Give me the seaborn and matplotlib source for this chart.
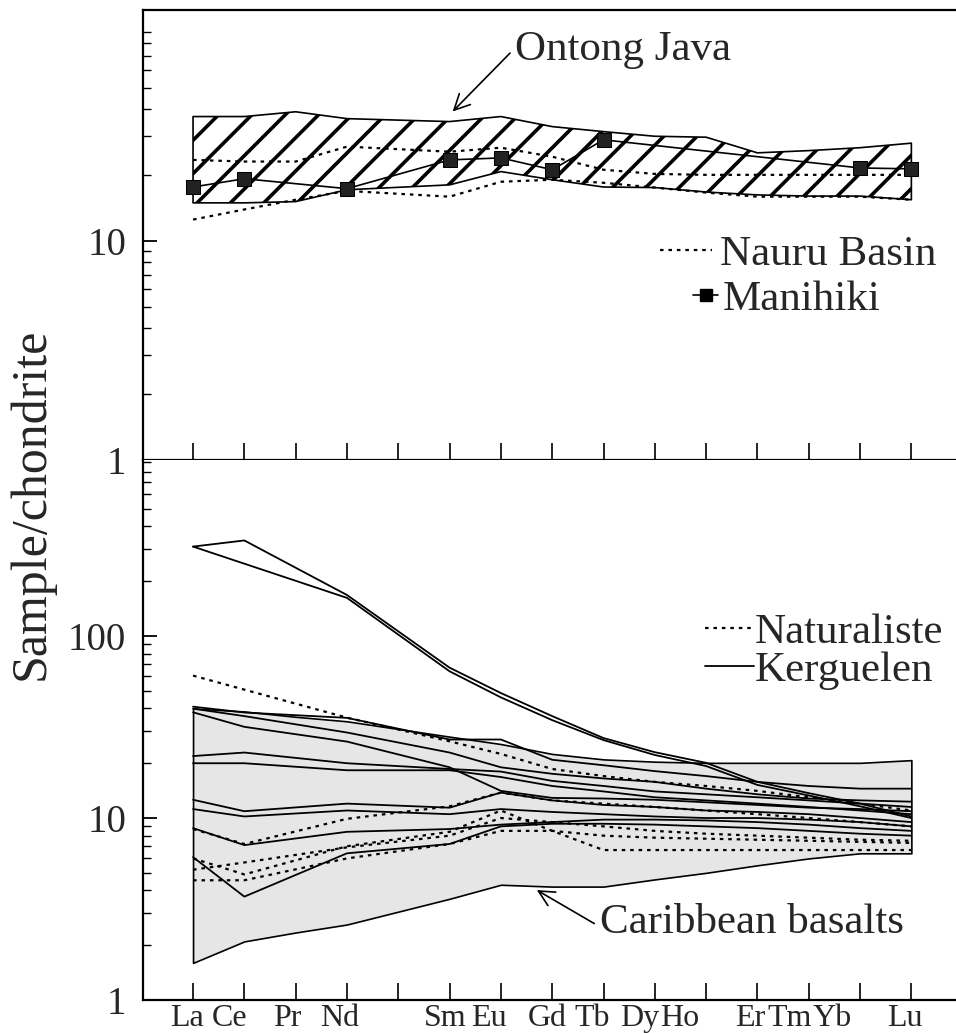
import numpy as np
import pandas as pd
import matplotlib
matplotlib.use("Agg")
import matplotlib.pyplot as plt
import seaborn as sns
from matplotlib.lines import Line2D

nan = np.nan

# ---------------- data ----------------
elements = ['La', 'Ce', 'Pr', 'Nd', 'Sm', 'Eu', 'Gd', 'Tb', 'Dy', 'Ho', 'Er', 'Tm', 'Yb', 'Lu']
element_x = [0, 1, 2, 3, 5, 6, 7, 8, 9, 10, 11, 12, 13, 14]   # Pm (4) has no data
tick_x = list(range(15))
label_names = ['La', 'Ce', 'Pr', 'Nd', 'Sm', 'Eu', 'Gd', 'Tb', 'Dy', 'Ho', 'Er', 'Tm', 'Yb', 'Lu']
label_x = [-0.12, 0.72, 1.83, 2.86, 4.92, 5.76, 6.91, 7.78, 8.70, 9.48, 10.85, 11.62, 12.45, 13.88]

# top panel
ontong_upper = [36.9, 36.9, 38.8, 36.1, 35.0, 36.9, 33.2, 31.5, 30.0, 29.7, 25.2, 25.8, 26.6, 27.9]
ontong_lower = [14.9, 14.9, 15.1, 17.1, 18.0, 20.7, 19.0, 17.6, 17.5, 16.7, 16.2, 16.0, 16.0, 15.4]
nauru_high = [23.4, 23.0, 23.0, 26.9, 25.5, 26.6, 24.2, 21.1, 20.2, 20.0, 20.0, 20.0, 20.0, 20.0]
nauru_low = [12.5, 13.9, 15.4, 16.9, 15.9, 18.6, 19.0, 18.4, 17.5, 16.6, 15.9, 15.9, 15.9, 15.4]
manihiki = [17.6, 19.2, nan, 17.3, 23.4, 23.9, 21.1, 28.9, nan, nan, nan, nan, 21.5, 21.3]

# bottom panel
carib_upper = [40.0, 38.5, 36.0, 34.0, 28.0, 25.5, 22.5, 21.0, 20.4, 20.1, 20.1, 20.1, 20.1, 20.8]
carib_lower = [1.6, 2.1, 2.35, 2.6, 3.6, 4.3, 4.2, 4.2, 4.6, 5.0, 5.5, 6.0, 6.4, 6.4]

kerg_1 = [310, 335, nan, 168, 67, 48.6, 36.3, 27.5, 23.0, 20.1, 15.8, 13.7, 12.0, 10.2]
kerg_2 = [310, nan, nan, 162, 64, 46.0, 34.5, 26.8, 22.2, 19.3, 15.2, 13.3, 11.6, 10.0]
kerg_3 = [40.9, 38.0, nan, 35.5, 27.0, 27.0, 20.9, 19.5, 18.1, 17.0, 15.8, 15.0, 14.5, 14.5]
kerg_4 = [38.1, 31.7, nan, 26.3, 19.0, 14.1, 12.9, 12.8, 12.6, 12.2, 11.8, 11.4, 11.2, 10.9]
kerg_5 = [39.9, 36.3, nan, 29.5, 22.9, 19.0, 17.5, 16.5, 15.8, 14.5, 13.5, 12.8, 12.5, 12.3]
kerg_6 = [21.9, 22.9, nan, 20.0, 18.6, 18.0, 16.0, 15.0, 14.0, 13.5, 13.0, 12.5, 12.0, 11.5]
kerg_7 = [20.0, 20.0, nan, 18.3, 18.3, 16.8, 15.0, 14.0, 13.0, 12.5, 12.0, 11.5, 11.0, 10.5]
kerg_8 = [12.6, 10.9, nan, 12.0, 11.4, 13.8, 12.5, 11.8, 11.5, 11.0, 10.8, 10.5, 10.0, 9.5]
kerg_9 = [11.2, 10.2, nan, 11.0, 10.5, 11.2, 10.8, 10.5, 10.2, 10.0, 10.0, 9.8, 9.5, 9.0]
kerg_10 = [8.8, 7.1, nan, 8.4, 8.7, 9.2, 9.5, 9.8, 9.8, 9.7, 9.5, 9.2, 8.8, 8.5]
kerg_11 = [6.1, 3.7, nan, 6.4, 7.2, 9.0, 9.3, 9.3, 9.2, 9.0, 8.8, 8.5, 8.2, 8.0]

nat_1 = [60.6, nan, nan, 35.6, 26.4, 22.5, 18.6, 17.0, 15.8, 15.0, 14.1, 13.0, 12.0, 11.0]
nat_2 = [8.7, 7.2, nan, 9.9, 11.6, 13.8, 12.5, 12.0, 11.5, 11.0, 10.5, 10.0, 9.5, 9.0]
nat_3 = [6.0, 4.9, nan, 7.0, 8.4, 11.0, 8.5, 6.67, 6.67, 6.67, 6.67, 6.67, 6.67, 6.67]
nat_4 = [4.55, 4.55, nan, 6.0, 7.2, 8.5, 8.5, 8.0, 7.8, 7.7, 7.6, 7.5, 7.4, 7.3]
nat_5 = [5.2, 5.7, nan, 6.9, 8.0, 10.0, 9.5, 9.0, 8.5, 8.2, 8.0, 7.8, 7.6, 7.5]

kerguelen = {'K1': kerg_1, 'K2': kerg_2, 'K3': kerg_3, 'K4': kerg_4, 'K5': kerg_5, 'K6': kerg_6,
             'K7': kerg_7, 'K8': kerg_8, 'K9': kerg_9, 'K10': kerg_10, 'K11': kerg_11}
naturaliste = {'N1': nat_1, 'N2': nat_2, 'N3': nat_3, 'N4': nat_4, 'N5': nat_5}
nauru = {'high': nauru_high, 'low': nauru_low}


def long_df(series):
    rows = []
    for name, vals in series.items():
        for x, v in zip(element_x, vals):
            if not np.isnan(v):
                rows.append((name, x, v))
    return pd.DataFrame(rows, columns=['series', 'x', 'v'])


# ---------------- style ----------------
sns.set_theme(style='ticks')
plt.rcParams['font.family'] = ['Liberation Serif', 'DejaVu Serif']
plt.rcParams['hatch.linewidth'] = 2.6
plt.rcParams['hatch.color'] = 'black'

fig = plt.figure(figsize=(9.56, 10.33), dpi=100)
ax_top = fig.add_axes([0.1496, 0.5547, 0.8504, 0.4356])
ax_bot = fig.add_axes([0.1496, 0.0319, 0.8504, 0.5228])

XLIM = (-0.975, 14.87)
dot = (0, (1.6, 2.2))
LW = 1.3

# ---------------- top panel ----------------
ax = ax_top
ax.set_yscale('log')
ax.fill_between(element_x, ontong_lower, ontong_upper, facecolor='none', edgecolor='black',
                hatch='/', linewidth=1.2, zorder=2)
sns.lineplot(data=long_df(nauru), x='x', y='v', units='series', estimator=None, color='black',
             lw=1.6, linestyle=dot, ax=ax, legend=False, zorder=3)
sns.lineplot(data=long_df({'M': manihiki}), x='x', y='v', units='series', estimator=None,
             color='black', lw=1.2, marker='s', markersize=10.5, markeredgecolor='black',
             markerfacecolor='#222222', ax=ax, legend=False, zorder=4)

ax.annotate('Ontong Java', xy=(5.06, 38.9), xytext=(6.28, 74.5), fontsize=31,
            ha='left', va='center',
            arrowprops=dict(arrowstyle='->', lw=1.2, color='black', relpos=(0, 0.55),
                            shrinkA=2, shrinkB=0, mutation_scale=28))

leg1 = ax.legend(handles=[Line2D([], [], color='black', lw=1.6, linestyle=dot)],
                 labels=['Nauru Basin'], loc='center left', bbox_to_anchor=(0.636, 0.456),
                 frameon=False, fontsize=31, handlelength=1.2, handletextpad=0.2,
                 borderpad=0, borderaxespad=0)
ax.add_artist(leg1)
leg2 = ax.legend(handles=[Line2D([], [], color='black', lw=1.2, marker='s', markersize=9)],
                 labels=['Manihiki'], loc='center left', bbox_to_anchor=(0.676, 0.356),
                 frameon=False, fontsize=31, handlelength=0.6, handletextpad=0.1,
                 borderpad=0, borderaxespad=0)

# ---------------- bottom panel ----------------
ax = ax_bot
ax.set_yscale('log')
ax.fill_between(element_x, carib_lower, carib_upper, facecolor='#e6e6e6', edgecolor='black',
                linewidth=1.2, zorder=1)
sns.lineplot(data=long_df(naturaliste), x='x', y='v', units='series', estimator=None,
             color='black', lw=1.6, linestyle=dot, ax=ax, legend=False, zorder=3)
sns.lineplot(data=long_df(kerguelen), x='x', y='v', units='series', estimator=None,
             color='black', lw=LW, ax=ax, legend=False, zorder=3)

ax.annotate('Caribbean basalts', xy=(6.70, 4.02), xytext=(7.93, 2.65), fontsize=31,
            ha='left', va='center',
            arrowprops=dict(arrowstyle='->', lw=1.2, color='black', relpos=(0, 0.4),
                            shrinkA=2, shrinkB=0, mutation_scale=28))

leg3 = ax.legend(handles=[Line2D([], [], color='black', lw=1.6, linestyle=dot)],
                 labels=['Naturaliste'], loc='center left', bbox_to_anchor=(0.691, 0.680),
                 frameon=False, fontsize=31, handlelength=1.15, handletextpad=0.0,
                 borderpad=0, borderaxespad=0)
ax.add_artist(leg3)
ax.legend(handles=[Line2D([], [], color='black', lw=1.3)],
          labels=['Kerguelen'], loc='center left', bbox_to_anchor=(0.691, 0.611),
          frameon=False, fontsize=31, handlelength=1.15, handletextpad=0.0,
          borderpad=0, borderaxespad=0)

# ---------------- axes styling ----------------
for a in (ax_top, ax_bot):
    a.set_xlim(*XLIM)
    a.set_xlabel('')
    a.set_ylabel('')
    a.spines['right'].set_visible(False)
    for s in a.spines.values():
        s.set_linewidth(1.6)
        s.set_color('black')
    a.set_xticks(tick_x, minor=True)
    a.tick_params(axis='x', which='minor', direction='in', length=12, width=1.2, color='black')
    a.tick_params(axis='y', which='major', direction='in', length=10, width=1.3,
                  labelsize=28, pad=12, color='black')
    a.tick_params(axis='y', which='minor', direction='in', length=6, width=1.0, color='black')
    a.grid(False)

ax_top.set_yticks([1, 10])
ax_top.set_yticklabels(['1', '10'])
ax_bot.set_yticks([1, 10, 100])
ax_bot.set_yticklabels(['1', '10', '100'])
ax_top.set_ylim(1, 113)
ax_bot.set_ylim(1, 927)
ax_bot.spines['top'].set_visible(False)
ax_top.set_xticks([])
ax_top.set_xticks(tick_x, minor=True)
ax_top.tick_params(axis='x', which='minor', direction='in', length=12, width=1.2)

ax_bot.set_xticks(label_x)
ax_bot.set_xticklabels(label_names)
ax_bot.tick_params(axis='x', which='major', length=0, labelsize=23, pad=3)

fig.text(0.033, 0.512, 'Sample/chondrite', rotation=90, fontsize=36, ha='center', va='center')

fig.savefig('out.png', dpi=100)
